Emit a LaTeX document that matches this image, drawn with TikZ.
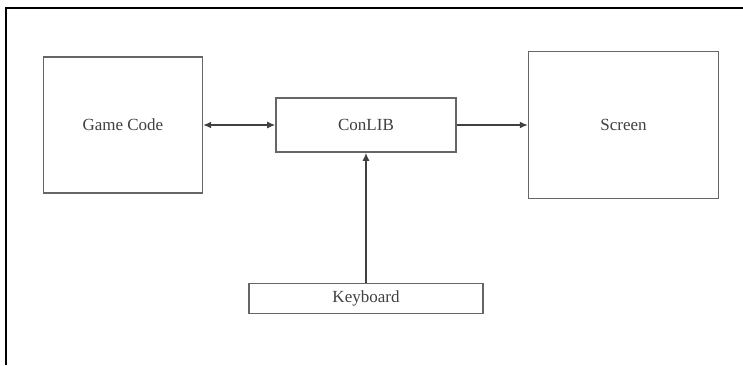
\documentclass[tikz,border=0pt]{standalone}
\usepackage{fontspec}
\setmainfont{Liberation Serif}
\usetikzlibrary{positioning, arrows.meta}

\begin{document}
\begin{tikzpicture}[
    x=1pt, y=-1pt,
    modulebox/.style={
        draw=black!60,
        line width=1.6pt,
        rectangle,
        fill=white,
        inner sep=0pt,
        font=\fontsize{17}{20}\selectfont\color{black!75}
    },
    link/.style={
        -{Latex[length=8pt, width=7pt]},
        line width=1.3pt,
        black!75
    },
    dbllink/.style={
        {Latex[length=8pt, width=7pt]}-{Latex[length=8pt, width=7pt]},
        line width=1.3pt,
        black!75
    },
    frameline/.style={
        line width=2pt,
        black
    }
]

    \useasboundingbox (0,0) rectangle (743,365);

    % Frame
    \draw[frameline] (6,365) -- (6,8) -- (743,8);

    % Nodes
    \node[modulebox, minimum width=180pt, minimum height=54pt] (conlib) at (366,125) {ConLIB};
    \node[modulebox, minimum width=159pt, minimum height=136pt, left=72pt of conlib] (gamecode) {Game Code};
    \node[modulebox, minimum width=190pt, minimum height=147pt, right=71pt of conlib] (screen) {Screen};
    \node[modulebox, minimum width=234pt, minimum height=30pt, below=130pt of conlib] (keyboard) {Keyboard};

    % Connections
    \draw[dbllink] (gamecode.east) -- (conlib.west);
    \draw[link] (conlib.east) -- (screen.west);
    \draw[link] (keyboard.north) -- (conlib.south);

\end{tikzpicture}
\end{document}
